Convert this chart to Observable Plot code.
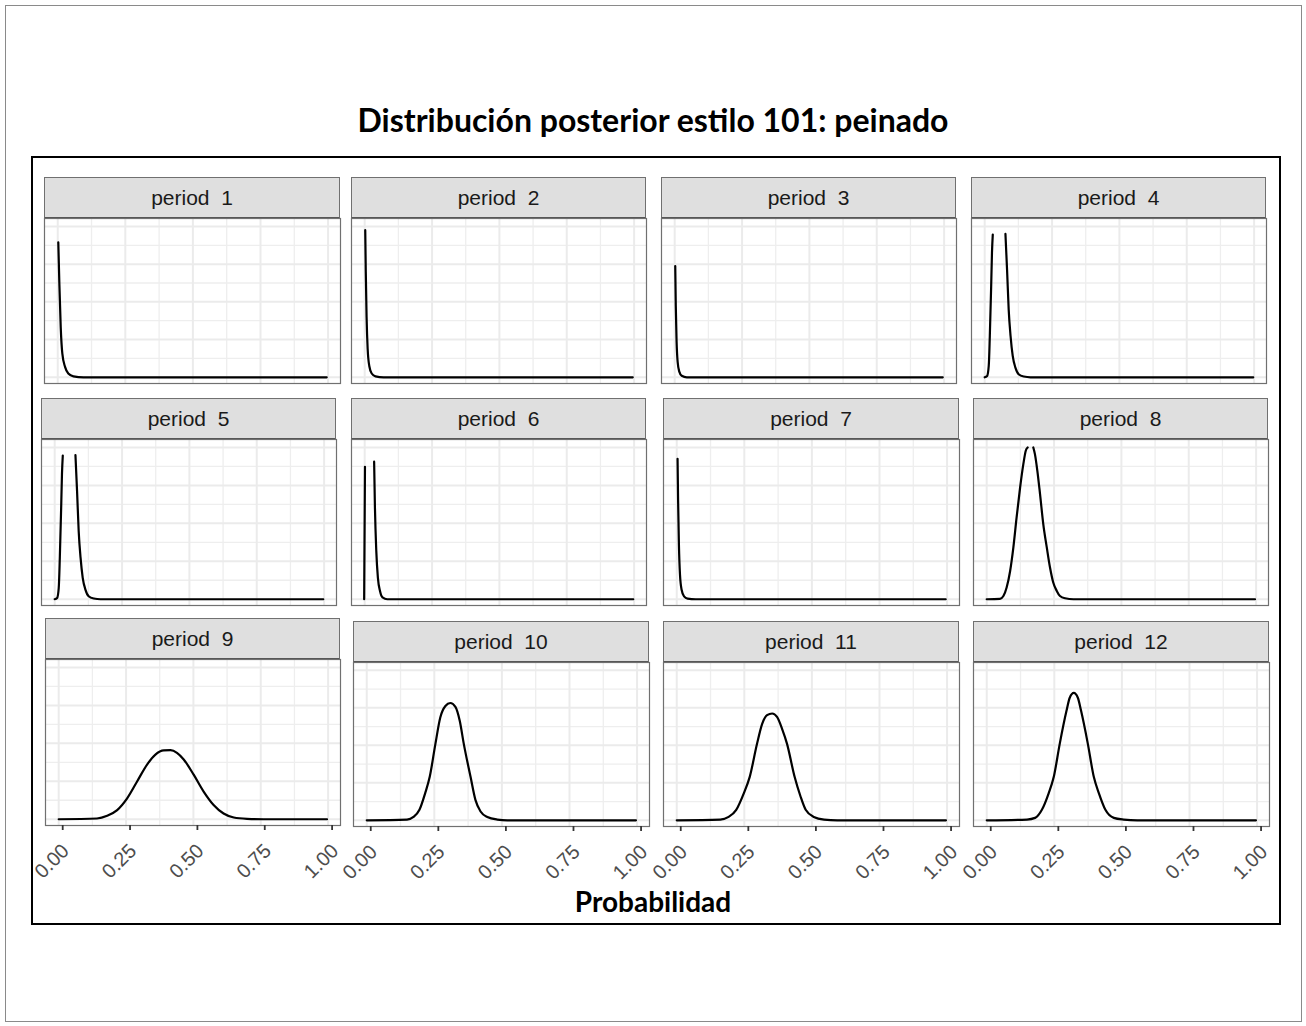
<!DOCTYPE html>
<html><head><meta charset="utf-8">
<script src="https://cdn.jsdelivr.net/npm/d3@7"></script>
<script src="https://cdn.jsdelivr.net/npm/@observablehq/plot@0.6"></script>
<style>
body{margin:0;background:#fff;width:1306px;height:1026px;position:relative;overflow:hidden;font-family:"Liberation Sans",Arial,sans-serif;}
.box{position:absolute;box-sizing:border-box;}
.strip{position:absolute;box-sizing:border-box;background:#DFDFDF;border:1px solid #707070;border-bottom:2px solid #555;text-align:center;font-size:21px;color:#1A1A1A;white-space:pre;}
.plotarea{position:absolute;}
.title{position:absolute;left:0;width:1306px;text-align:center;font-family:Lato,"Open Sans",sans-serif;font-weight:bold;color:#000;}
</style></head><body>
<script>
// ---- data ----
const periods = ["period  1","period  2","period  3","period  4","period  5","period  6",
                 "period  7","period  8","period  9","period  10","period  11","period  12"];
// posterior density curves: [probability, density (grid units)]; NaN = clipped peak
const curve1 = [[0.002,7.16],[0.006,4.96],[0.011,2.66],[0.017,1.25],[0.027,0.55],[0.039,0.2],[0.058,0.05],[0.095,0],[0.995,0]];
const curve2 = [[0.002,7.8],[0.004,5.6],[0.007,3.2],[0.011,1.5],[0.017,0.6],[0.026,0.2],[0.04,0.05],[0.07,0],[0.995,0]];
const curve3 = [[0.002,5.9],[0.004,3.8],[0.007,1.9],[0.011,0.8],[0.017,0.3],[0.026,0.08],[0.045,0],[0.995,0]];
const curve4 = [[0,0],[0.009,0.07],[0.015,0.6],[0.019,2.19],[0.024,4.83],[0.027,6.6],[0.030,7.57],[0.05,NaN],[0.077,7.6],[0.083,5.7],[0.089,3.6],[0.096,2.19],[0.104,1.13],[0.114,0.51],[0.126,0.16],[0.145,0.04],[0.17,0],[0.997,0]];
const curve5 = [[0,0],[0.009,0.07],[0.015,0.6],[0.019,2.19],[0.024,4.83],[0.027,6.6],[0.030,7.57],[0.05,NaN],[0.077,7.6],[0.083,5.7],[0.089,3.6],[0.096,2.19],[0.104,1.13],[0.114,0.51],[0.126,0.16],[0.145,0.04],[0.17,0],[0.997,0]];
const curve6 = [[-0.002,0],[0.001,6.98],[0.02,NaN],[0.035,7.25],[0.038,4.84],[0.043,2.55],[0.049,1.13],[0.057,0.42],[0.066,0.1],[0.084,0],[0.997,0]];
const curve7 = [[0.003,7.4],[0.005,5.2],[0.008,2.9],[0.012,1.3],[0.018,0.5],[0.027,0.15],[0.04,0.03],[0.07,0],[0.995,0]];
const curve8 = [[0,0],[0.049,0.02],[0.062,0.17],[0.074,0.62],[0.087,1.49],[0.099,2.73],[0.111,4.31],[0.124,5.89],[0.136,7.12],[0.145,7.83],[0.152,8.0],[0.162,NaN],[0.173,8.0],[0.179,7.65],[0.188,6.77],[0.198,5.54],[0.210,3.96],[0.223,2.73],[0.235,1.67],[0.247,0.88],[0.260,0.44],[0.272,0.17],[0.291,0.05],[0.322,0],[0.996,0]];
const curve9 = [[0,0],[0.142,0.04],[0.180,0.18],[0.217,0.48],[0.254,1.10],[0.291,1.99],[0.328,2.88],[0.359,3.41],[0.390,3.63],[0.415,3.64],[0.439,3.50],[0.464,3.15],[0.501,2.35],[0.538,1.46],[0.575,0.75],[0.612,0.30],[0.650,0.09],[0.699,0.02],[0.761,0],[0.996,0]];
const curve10 = [[0,0],[0.149,0.04],[0.173,0.18],[0.195,0.56],[0.216,1.44],[0.233,2.32],[0.254,4.08],[0.272,5.49],[0.291,6.10],[0.309,6.26],[0.328,6.05],[0.344,5.31],[0.359,4.08],[0.384,2.32],[0.402,1.09],[0.421,0.47],[0.446,0.18],[0.483,0.04],[0.52,0],[0.996,0]];
const curve11 = [[0,0],[0.161,0.04],[0.192,0.18],[0.220,0.56],[0.248,1.44],[0.270,2.32],[0.297,4.08],[0.316,5.14],[0.334,5.61],[0.353,5.70],[0.371,5.52],[0.390,4.87],[0.408,4.08],[0.436,2.32],[0.458,1.27],[0.477,0.56],[0.507,0.18],[0.545,0.04],[0.594,0],[0.996,0]];
const curve12 = [[0,0],[0.149,0.04],[0.179,0.13],[0.204,0.56],[0.229,1.44],[0.248,2.32],[0.270,4.08],[0.295,5.84],[0.307,6.54],[0.322,6.80],[0.337,6.54],[0.349,5.84],[0.374,4.08],[0.396,2.32],[0.415,1.44],[0.439,0.56],[0.470,0.13],[0.507,0.04],[0.557,0],[0.996,0]];
const curves = [curve1,curve2,curve3,curve4,curve5,curve6,curve7,curve8,curve9,curve10,curve11,curve12];

const tickVals = [0, 0.25, 0.5, 0.75, 1];
const tickLabels = ["0.00","0.25","0.50","0.75","1.00"];
const xMinor = [0.125, 0.375, 0.625, 0.875];
const yMajor = [0, 2, 4, 6, 8];
const yMinor = [1, 3, 5, 7];

const titleText = "Distribución posterior estilo 101: peinado";
const xLabel = "Probabilidad";

// ---- layout (panel placement, px) ----
const layout = [
  {left:44, top:177, w:296, plotTop:218, plotH:165},
  {left:351, top:177, w:295, plotTop:218, plotH:165},
  {left:661, top:177, w:295, plotTop:218, plotH:165},
  {left:971, top:177, w:295, plotTop:218, plotH:165},
  {left:41, top:398, w:295, plotTop:439, plotH:166},
  {left:351, top:398, w:295, plotTop:439, plotH:166},
  {left:663, top:398, w:296, plotTop:439, plotH:166},
  {left:973, top:398, w:295, plotTop:439, plotH:166},
  {left:45, top:618, w:295, plotTop:659, plotH:166, axis:true},
  {left:353, top:621, w:296, plotTop:662, plotH:164, axis:true},
  {left:663, top:621, w:296, plotTop:662, plotH:164, axis:true},
  {left:973, top:621, w:296, plotTop:662, plotH:164, axis:true}
];

function el(cls, css, text) {
  const d = document.createElement("div");
  d.className = cls;
  Object.assign(d.style, css);
  if (text != null) d.textContent = text;
  document.body.appendChild(d);
  return d;
}

// outer frames
el("box", {left:"5px", top:"5px", width:"1297px", height:"1017px", border:"1px solid #8a8a8a"});
el("box", {left:"31px", top:"156px", width:"1250px", height:"769px", border:"2.5px solid #000"});
el("title", {top:"98px", fontSize:"32px", lineHeight:"44px"}, titleText);
el("title", {top:"883px", fontSize:"28px", lineHeight:"36px"}, xLabel);

layout.forEach((L, i) => {
  const sh = L.plotTop - L.top + 1;
  el("strip", {left:L.left+"px", top:L.top+"px", width:L.w+"px", height:sh+"px", lineHeight:(sh-3)+"px"}, periods[i]);
  const holder = el("plotarea", {left:L.left+"px", top:L.plotTop+"px", width:L.w+"px", height:L.plotH+"px"});
  const mb = L.axis ? 60 : 0;
  const marks = [
    Plot.ruleX(xMinor, {stroke:"#EEEEEE", strokeWidth:1.3}),
    Plot.ruleY(yMinor, {stroke:"#EEEEEE", strokeWidth:1.3}),
    Plot.ruleX(tickVals, {stroke:"#EBEBEB", strokeWidth:2}),
    Plot.ruleY(yMajor, {stroke:"#EBEBEB", strokeWidth:2}),
    Plot.line(curves[i], {x:d=>d[0], y:d=>d[1], curve:"monotone-x", stroke:"#000", strokeWidth:2.2, clip:true}),
    Plot.frame({stroke:"#707070", strokeWidth:1.2})
  ];
  if (L.axis) {
    // tick marks
    marks.push(Plot.axisX(tickVals, {
      tickFormat: () => "", tickSize: 5, tickPadding: 0,
      color: "#333", strokeWidth: 1.8, dx: 4, label: null
    }));
    // tick labels
    marks.push(Plot.axisX(tickVals, {
      tickFormat: d => tickLabels[tickVals.indexOf(d)],
      tickRotate: -45, tickSize: 0, tickPadding: 0, fontSize: 20,
      color: "#4D4D4D", dx: 7, dy: 22, label: null
    }));
  }
  const chart = Plot.plot({
    width: L.w, height: L.plotH + mb,
    marginTop: 0, marginLeft: 0, marginRight: 0, marginBottom: mb,
    x: {domain: [-0.049, 1.046], axis: null},
    y: {domain: [-0.33, 8.42], axis: null},
    style: {overflow: "visible", background: "transparent", fontFamily: "'Liberation Sans', Arial, sans-serif"},
    marks
  });
  holder.appendChild(chart);
});
</script>
</body></html>
